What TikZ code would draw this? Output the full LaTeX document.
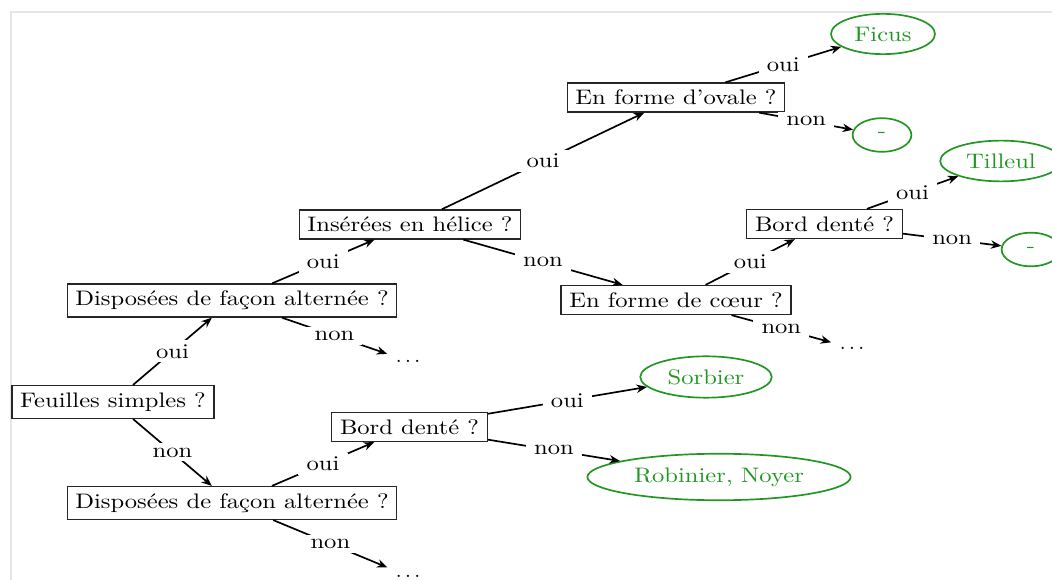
\documentclass[tikz,border=0pt]{standalone}
\usepackage{fontspec}
\setmainfont{lmroman10-regular.otf}[FakeStretch=1.17]
\usetikzlibrary{shapes.geometric,arrows.meta}
\definecolor{leafgreen}{RGB}{34,150,34}
\begin{document}
\begin{tikzpicture}[x=0.4762pt,y=-0.4762pt,
  q/.style={draw=black!85, semithick, inner xsep=3.9pt, inner ysep=3.33pt},
  leaf/.style={ellipse, draw=leafgreen, thick, text=leafgreen, inner xsep=3.9pt, inner ysep=3.33pt},
  dashleaf/.style={leaf, minimum width=28pt, minimum height=16pt},
  dotsnode/.style={inner xsep=3.9pt, inner ysep=3.33pt},
  conn/.style={thick, -{Stealth[length=5pt,width=4pt]}},
  lab/.style={midway, fill=white, inner xsep=3.9pt, inner ysep=2pt}]
\useasboundingbox (0,0) rectangle (1052,580);
\draw[black!10, line width=0.9pt] (11,582) -- (11,12) -- (1054,12);

% question nodes
\node[q] (f)  at (113,402)   {Feuilles simples ?};
\node[q] (d1) at (232,300.5) {Disposées de façon alternée ?};
\node[q] (d2) at (232,503)   {Disposées de façon alternée ?};
\node[q] (h)  at (410,224.5) {Insérées en hélice ?};
\node[q] (ov) at (676,97.5)  {En forme d’ovale ?};
\node[q] (co) at (676,300)   {En forme de cœur ?};
\node[q] (b1) at (824.5,224) {Bord denté ?};
\node[q] (b2) at (409.5,427) {Bord denté ?};

% leaves
\node[leaf] (ficus) at (883,34)    {Ficus};
\node[dashleaf] (m1) at (882,135)  {-};
\node[leaf] (til)   at (1001,161)  {Tilleul};
\node[dashleaf] (m2) at (1031,249.5){-};
\node[leaf] (sorb)  at (706,377)   {Sorbier};
\node[leaf] (rob)   at (719,477)   {Robinier, Noyer};

% open ends
\node[dotsnode] (e1) at (408,361) {$\ldots$};
\node[dotsnode] (e2) at (852,348) {$\ldots$};
\node[dotsnode] (e3) at (408,576) {$\ldots$};

% connectors
\draw[conn] (f)  -- node[lab]{oui} (d1);
\draw[conn] (f)  -- node[lab]{non} (d2);
\draw[conn] (d1) -- node[lab]{oui} (h);
\draw[conn] (d1) -- node[lab]{non} (e1);
\draw[conn] (h)  -- node[lab]{oui} (ov);
\draw[conn] (h)  -- node[lab]{non} (co);
\draw[conn] (ov) -- node[lab]{oui} (ficus);
\draw[conn] (ov) -- node[lab]{non} (m1);
\draw[conn] (co) -- node[lab]{oui} (b1);
\draw[conn] (co) -- node[lab]{non} (e2);
\draw[conn] (b1) -- node[lab]{oui} (til);
\draw[conn] (b1) -- node[lab]{non} (m2);
\draw[conn] (d2) -- node[lab]{oui} (b2);
\draw[conn] (d2) -- node[lab]{non} (e3);
\draw[conn] (b2) -- node[lab]{oui} (sorb);
\draw[conn] (b2) -- node[lab]{non} (rob);
\end{tikzpicture}
\end{document}
